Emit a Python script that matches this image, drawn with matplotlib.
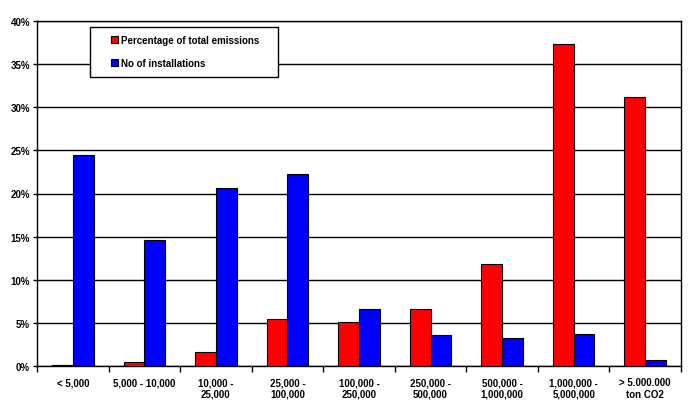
import matplotlib
matplotlib.use("Agg")
import matplotlib.pyplot as plt
import numpy as np
from matplotlib.ticker import FuncFormatter
from matplotlib.patches import Rectangle

categories = ["< 5,000", "5,000 - 10,000", "10,000 -\n25,000", "25,000 -\n100,000",
              "100,000 -\n250,000", "250,000 -\n500,000", "500,000 -\n1,000,000",
              "1,000,000 -\n5,000,000", "> 5.000.000\nton CO2"]
emissions = [0.15, 0.45, 1.6, 5.4, 5.1, 6.6, 11.8, 37.3, 31.2]
installations = [24.5, 14.6, 20.6, 22.3, 6.6, 3.6, 3.25, 3.7, 0.7]

plt.rcParams['font.family'] = ['Liberation Sans', 'DejaVu Sans']
plt.rcParams['font.weight'] = 'bold'

fig = plt.figure(figsize=(6.99, 4.06), dpi=100)
ax = fig.add_axes([37/699, 39/406, 644/699, 345/406])

x = np.arange(len(categories))
w = 0.29
ax.bar(x - w/2, emissions, w, color='#ff0000', edgecolor='black', linewidth=0.8,
       label='Percentage of total emissions', zorder=3)
ax.bar(x + w/2, installations, w, color='#0000ff', edgecolor='black', linewidth=0.8,
       label='No of installations', zorder=3)

ax.set_xlim(-0.5, len(categories) - 0.5)
ax.set_ylim(0, 40)
ax.set_yticks(np.arange(0, 41, 5))
ax.yaxis.set_major_formatter(FuncFormatter(lambda v, p: f"{int(v)}%"))
ax.yaxis.grid(True, color='black', linewidth=1, zorder=0)
ax.set_axisbelow(True)

ax.set_xticks(x)
ax.set_xticklabels(categories, fontsize=7, fontweight='bold')
ax.set_xticks(np.arange(-0.5, len(categories), 1), minor=True)
ax.tick_params(axis='x', which='major', length=0, pad=8)
ax.tick_params(axis='x', which='minor', length=4, width=1, direction='out')
ax.tick_params(axis='y', length=3, width=1, direction='out', labelsize=7, pad=2)
for lbl in ax.get_yticklabels():
    lbl.set_fontweight('bold')

for s in ax.spines.values():
    s.set_color('black')
    s.set_linewidth(1)

# legend frame box
box = Rectangle(((90 - 37) / 644, (367 - 77.5) / 345), (278 - 90) / 644, 50 / 345,
                transform=ax.transAxes, facecolor='white', edgecolor='black',
                linewidth=1, zorder=4, clip_on=False)
ax.add_patch(box)

leg = ax.legend(loc='upper left', bbox_to_anchor=((111 - 37) / 644, (367 - 35.5) / 345),
                fontsize=7, frameon=False,
                handlelength=0.75, handleheight=0.75, handletextpad=0.25,
                labelspacing=1.35, borderpad=0, borderaxespad=0)
leg.set_zorder(5)
for t in leg.get_texts():
    t.set_fontweight('bold')

fig.savefig("out.png", dpi=100)
